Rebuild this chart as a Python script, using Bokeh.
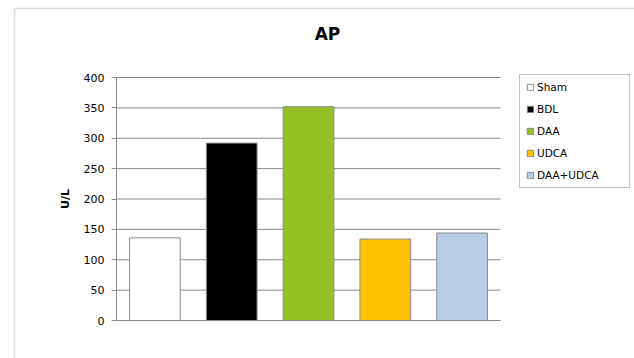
from bokeh.plotting import figure
from bokeh.models import (Range1d, ColumnDataSource, Label, BoxAnnotation,
                          Legend, LegendItem, LinearAxis, FixedTicker)
from bokeh.embed import file_html
from bokeh.resources import INLINE

categories = ["Sham", "BDL", "DAA", "UDCA", "DAA+UDCA"]
values = [136, 292, 352, 134, 144]
colors = ["#FFFFFF", "#000000", "#94BF26", "#FFC000", "#B9CDE5"]
y_ticks = [0, 50, 100, 150, 200, 250, 300, 350, 400]
title_text = "AP"
y_label = "U/L"

FONT = "DejaVu Sans"
W, H = 634, 358
# plot area in canvas px
FL, FR, FT, FB = 116, 500, 77, 320
ymin, ymax = 0, 400
n = len(categories)
xu = (FR - FL) / n
yu = (FB - FT) / (ymax - ymin)

x_range = Range1d(-FL / xu, n + (W - FR) / xu)
y_range = Range1d(ymin - (H - FB) / yu, ymax + FT / yu)

p = figure(width=W, height=H, x_range=x_range, y_range=y_range,
           output_backend="svg", toolbar_location=None,
           x_axis_location=None, y_axis_location=None,
           min_border=0)
p.min_border_left = p.min_border_right = p.min_border_top = p.min_border_bottom = 0
p.background_fill_color = "white"
p.border_fill_color = "white"
p.outline_line_color = None
p.xgrid.visible = False
p.ygrid.visible = False

xs = [i + 0.5 for i in range(n)]
src = ColumnDataSource(dict(x=xs, cat=categories, val=values, col=colors))

# grid lines across the category span
p.segment(x0=[0] * len(y_ticks), x1=[n] * len(y_ticks), y0=y_ticks, y1=y_ticks,
          line_color="#8a8a8a", line_width=1)

r = p.vbar(x="x", top="val", width=0.66, source=src, fill_color="col",
           line_color="#8a8a8a", line_width=1)

# y axis
yax = LinearAxis(fixed_location=0, bounds=(ymin, ymax), ticker=FixedTicker(ticks=y_ticks))
yax.axis_line_color = "#8a8a8a"
yax.major_tick_line_color = "#8a8a8a"
yax.major_tick_out = 5
yax.major_tick_in = 0
yax.minor_tick_line_color = None
yax.major_label_text_font = FONT
yax.major_label_text_font_size = "11px"
yax.major_label_text_color = "#000000"
yax.major_label_standoff = 7
yax.axis_label = y_label
yax.axis_label_text_font = FONT
yax.axis_label_text_font_style = "bold"
yax.axis_label_text_font_size = "11px"
yax.axis_label_text_color = "#000000"
yax.axis_label_standoff = 9
p.add_layout(yax, "left")

# x axis (line only)
xax = LinearAxis(fixed_location=0, bounds=(0, n), ticker=FixedTicker(ticks=[]))
xax.axis_line_color = "#8a8a8a"
xax.major_tick_line_color = None
xax.minor_tick_line_color = None
xax.major_label_text_font_size = "0px"
p.add_layout(xax, "below")

# legend
items = [LegendItem(label=c, renderers=[r], index=i) for i, c in enumerate(categories)]
legend = Legend(items=items, location=(519, H - 188), orientation="vertical")
legend.border_line_color = "#8a8a8a"
legend.border_line_width = 1
legend.background_fill_color = "white"
legend.label_text_font = FONT
legend.label_text_font_size = "10.5px"
legend.label_text_color = "#000000"
legend.glyph_width = 8
legend.glyph_height = 8
legend.label_height = 12
legend.label_width = 86
legend.spacing = 10
legend.padding = 6
legend.margin = 0
legend.label_standoff = 3
p.add_layout(legend, "center")

# title
t = Label(x=327, y=H - 33, x_units="screen", y_units="screen", text=title_text,
          text_font=FONT, text_font_style="bold", text_font_size="17px",
          text_color="#000000", text_align="center", text_baseline="middle")
p.add_layout(t)

# outer chart border
box = BoxAnnotation(left=14, right=W + 20, top=H - 8, bottom=-20,
                    left_units="screen", right_units="screen", top_units="screen", bottom_units="screen",
                    fill_color=None, line_color="#8a8a8a", line_width=1.5)
p.add_layout(box)

open("out.html", "w").write(file_html(p, INLINE))
